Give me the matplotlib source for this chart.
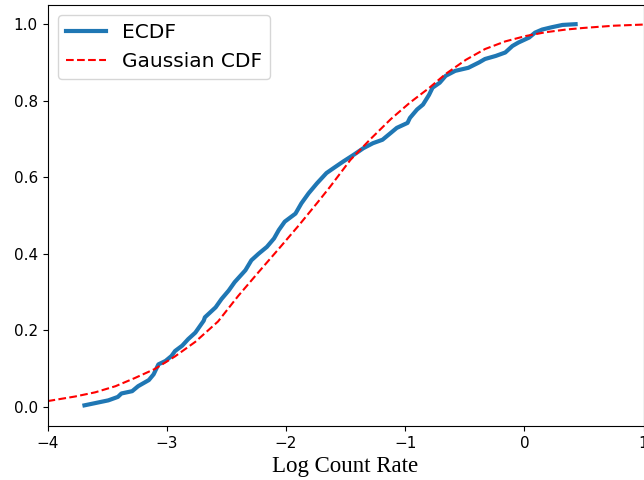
import numpy as np
import matplotlib
matplotlib.use('Agg')
import matplotlib.pyplot as plt

# ECDF of the log count rates
ecdf_x = [-3.69, -3.49, -3.41, -3.38, -3.29, -3.24, -3.15, -3.11, -3.07, -3.01,
          -2.96, -2.93, -2.87, -2.82, -2.76, -2.69, -2.68, -2.59, -2.54, -2.48,
          -2.43, -2.34, -2.29, -2.23, -2.16, -2.10, -2.06, -2.01, -1.92, -1.87,
          -1.81, -1.74, -1.66, -1.60, -1.52, -1.43, -1.35, -1.27, -1.19, -1.12,
          -1.07, -0.98, -0.96, -0.90, -0.85, -0.80, -0.77, -0.71, -0.66, -0.58,
          -0.47, -0.38, -0.33, -0.24, -0.16, -0.10, -0.05, 0.04, 0.09, 0.15,
          0.23, 0.32, 0.43]
ecdf_y = [0.004, 0.017, 0.026, 0.035, 0.041, 0.054, 0.070, 0.085, 0.111, 0.120,
          0.133, 0.146, 0.160, 0.177, 0.194, 0.225, 0.234, 0.260, 0.282, 0.304,
          0.326, 0.357, 0.383, 0.400, 0.418, 0.440, 0.462, 0.484, 0.505, 0.532,
          0.558, 0.584, 0.611, 0.624, 0.641, 0.659, 0.676, 0.689, 0.698, 0.716,
          0.729, 0.742, 0.755, 0.777, 0.790, 0.815, 0.834, 0.847, 0.865, 0.878,
          0.886, 0.900, 0.909, 0.917, 0.926, 0.943, 0.952, 0.965, 0.978, 0.986,
          0.992, 0.998, 1.0]

# fitted Gaussian CDF
gauss_x = [-4.0, -3.77, -3.6, -3.43, -3.27, -3.1, -2.93, -2.76, -2.57, -2.4,
           -2.23, -2.06, -1.89, -1.73, -1.63, -1.46, -1.29, -1.12, -0.96, -0.8,
           -0.66, -0.49, -0.33, -0.16, 0.01, 0.18, 0.35, 0.49, 0.75, 1.0]
gauss_y = [0.015, 0.027, 0.038, 0.054, 0.075, 0.099, 0.132, 0.170, 0.223, 0.290,
           0.352, 0.413, 0.475, 0.536, 0.575, 0.645, 0.700, 0.752, 0.795, 0.833,
           0.870, 0.907, 0.935, 0.955, 0.969, 0.979, 0.986, 0.990, 0.996, 0.999]

fig = plt.figure(figsize=(6.44, 4.8), dpi=100)
ax = fig.add_axes([0.0738, 0.1125, 0.9255, 0.877])

ax.plot(ecdf_x, ecdf_y, color='#1f77b4', linewidth=3, label='ECDF')
ax.plot(gauss_x, gauss_y, 'r--', linewidth=1.5, label='Gaussian CDF')

ax.set_xlim(-4, 1)
ax.set_ylim(-0.05, 1.05)
ax.tick_params(labelsize=11)
ax.set_xlabel('Log Count Rate', family='Liberation Serif', fontsize=16.5)
ax.legend(loc='upper left', fontsize=14.5)

fig.savefig('out.png', dpi=100)
